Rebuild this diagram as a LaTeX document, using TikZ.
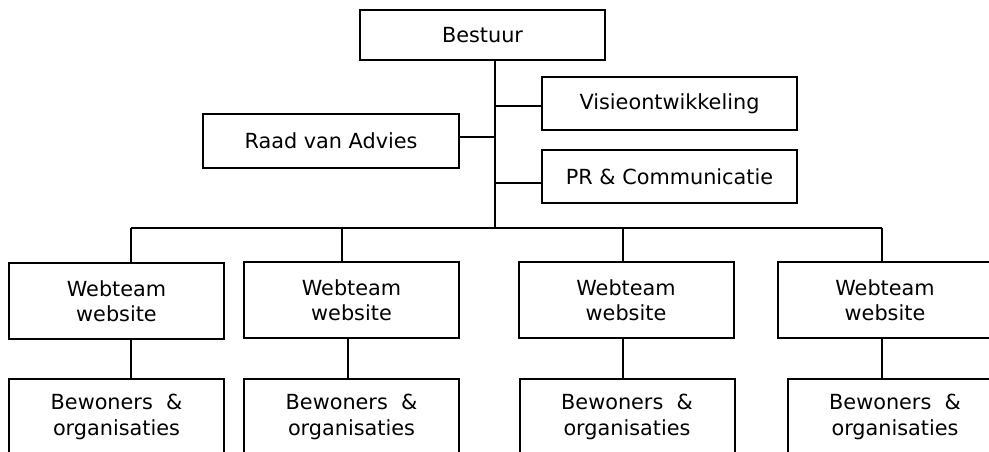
\documentclass[tikz,border=0pt]{standalone}
\usepackage{fontspec}
\setmainfont{DejaVu Sans}
\usepackage{tikz}

\newlength{\pxu}
\setlength{\pxu}{0.75pt}
\tikzset{
	unit/.style={shape=rectangle,draw=black,line width=1.5pt,inner sep=0pt,align=center,
		font=\fontsize{15.6}{19}\selectfont},
	wide/.style={unit,minimum width=255\pxu,minimum height=53\pxu},
	team/.style={unit,minimum width=215\pxu,minimum height=76\pxu},
	link/.style={line width=1.5pt}
}

\begin{document}
\begin{tikzpicture}[x=0.75pt,y=-0.75pt]
	\useasboundingbox (0,0) rectangle (989,452);
	\clip (0,0) rectangle (989,452);
	\node[unit,minimum width=245\pxu,minimum height=50\pxu] (bestuur) at (482.5,35) {Bestuur};
	\node[wide] (visie) at (669.5,103.5) {Visieontwikkeling};
	\node[wide,minimum width=256\pxu,minimum height=54\pxu] (raad) at (331,141) {Raad van Advies};
	\node[wide] (pr) at (669.5,176.5) {PR \& Communicatie};
	\node[team] (web1) at (116.5,301) {Webteam\\website};
	\node[team] (web2) at (351.5,300) {Webteam\\website};
	\node[team] (web3) at (626,300) {Webteam\\website};
	\node[team] (web4) at (885,300) {Webteam\\website};
	\node[team] (bew1) at (116.5,417) {Bewoners~~\&\\organisaties};
	\node[team] (bew2) at (351.5,417) {Bewoners~~\&\\organisaties};
	\node[team] (bew3) at (627,417) {Bewoners~~\&\\organisaties};
	\node[team] (bew4) at (895,417) {Bewoners~~\&\\organisaties};
	\coordinate (jv) at (495,106);
	\coordinate (jr) at (495,137);
	\coordinate (jp) at (495,183);
	\coordinate (d1) at (131,228);
	\coordinate (d2) at (342,228);
	\coordinate (d3) at (623,228);
	\coordinate (d4) at (882,228);
	\coordinate (s2) at (348,300);
	\draw[link] (jv |- bestuur.south) -- (jv |- d1);
	\draw[link] (jv) -- (jv -| visie.west);
	\draw[link] (jr) -- (jr -| raad.east);
	\draw[link] (jp) -- (jp -| pr.west);
	\draw[link] (d1) -- (d4);
	\draw[link] (d1) -- (d1 |- web1.north);
	\draw[link] (d2) -- (d2 |- web2.north);
	\draw[link] (d3) -- (d3 |- web3.north);
	\draw[link] (d4) -- (d4 |- web4.north);
	\draw[link] (web1.south -| d1) -- (bew1.north -| d1);
	\draw[link] (web2.south -| s2) -- (bew2.north -| s2);
	\draw[link] (web3.south -| d3) -- (bew3.north -| d3);
	\draw[link] (web4.south -| d4) -- (bew4.north -| d4);
\end{tikzpicture}
\end{document}
